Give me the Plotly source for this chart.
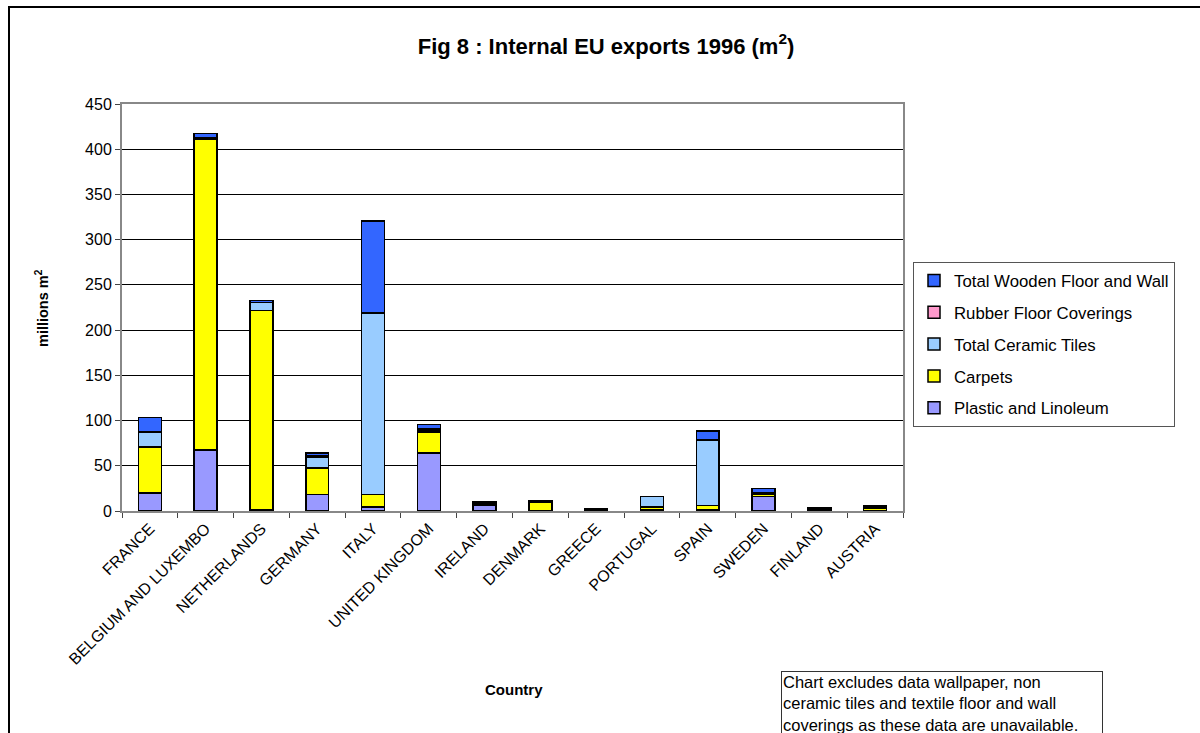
import plotly.graph_objects as go

# Internal EU exports of floor and wall coverings, 1996 (millions of m2)
countries = ["FRANCE", "BELGIUM AND LUXEMBO", "NETHERLANDS", "GERMANY", "ITALY",
             "UNITED KINGDOM", "IRELAND", "DENMARK", "GREECE", "PORTUGAL",
             "SPAIN", "SWEDEN", "FINLAND", "AUSTRIA"]

plastic_linoleum = [20, 67.7, 1, 18.5, 4.4, 64, 6.7, 0.5, 0.5, 1, 1, 16.3, 0.8, 0.5]
carpets = [51, 343, 220.8, 28.8, 13.7, 23.6, 2.3, 9.7, 1, 3.4, 4.9, 2, 1, 2]
ceramic_tiles = [16, 1.5, 8.5, 12.6, 200, 2, 0.3, 0.3, 0.5, 11.5, 72.5, 1.5, 0.8, 1.5]
rubber_coverings = [0.3, 1, 0.5, 1, 1.5, 1.5, 0.2, 0.1, 0.3, 0.1, 0.5, 0.5, 0.5, 0.3]
wooden_floor_wall = [16.2, 4, 2, 3.4, 101, 4.3, 0.2, 0.2, 0.7, 0.1, 9.5, 4.5, 0.9, 1.2]

y_ticks = [0, 50, 100, 150, 200, 250, 300, 350, 400, 450]

series = [
    ("Plastic and Linoleum", plastic_linoleum, "#9999FF"),
    ("Carpets", carpets, "#FFFF00"),
    ("Total Ceramic Tiles", ceramic_tiles, "#99CCFF"),
    ("Rubber Floor Coverings", rubber_coverings, "#FF99CC"),
    ("Total Wooden Floor and Wall", wooden_floor_wall, "#3366FF"),
]

FONT = "Liberation Sans, Arial, sans-serif"

fig = go.Figure()
for i, (name, vals, color) in enumerate(series):
    fig.add_trace(go.Bar(
        x=countries, y=vals, name=name, legendgroup=name,
        legendrank=len(series) - i,
        marker=dict(color=color, line=dict(color="black", width=1.5)),
    ))

L, R, T, B = 122, 297, 104, 222
W, H = 1200, 733
pw, ph = W - L - R, H - T - B

def px_x(x):
    return (x - L) / pw

def px_y(y):
    return (H - B - y) / ph

fig.update_layout(
    width=W, height=H,
    margin=dict(l=L, r=R, t=T, b=B, pad=0),
    barmode="stack", bargap=0.59,
    paper_bgcolor="white", plot_bgcolor="white",
    font=dict(family=FONT, size=16, color="black"),
    title=dict(text="<b>Fig 8 : Internal EU exports 1996 (m<sup>2</sup>)</b>",
               x=0.505, xref="container", xanchor="center",
               y=1 - 46 / H, yref="container", yanchor="middle",
               font=dict(size=22, family=FONT)),
    showlegend=True,
    legend=dict(x=px_x(913), y=px_y(262), xanchor="left", yanchor="top",
                xref="paper", yref="paper",
                traceorder="grouped", tracegroupgap=7,
                entrywidth=235, entrywidthmode="pixels",
                bordercolor="#555555", borderwidth=1, bgcolor="white",
                font=dict(size=16.8, family=FONT)),
    xaxis=dict(type="category", tickangle=-45, tickson="boundaries",
               ticks="outside", ticklen=5, tickcolor="#444444",
               showline=True, linecolor="#888888", linewidth=2, mirror=True,
               tickfont=dict(size=16, family=FONT), showgrid=False),
    yaxis=dict(range=[0, 450], tickvals=y_ticks, ticks="outside", ticklen=5,
               tickcolor="#444444", showline=True, linecolor="#888888",
               linewidth=2, mirror=True, showgrid=True, gridcolor="black",
               gridwidth=1, zeroline=False, tickfont=dict(size=16, family=FONT)),
)

# axis titles
fig.add_annotation(text="<b>millions m<sup>2</sup></b>", xref="paper", yref="paper",
                   x=px_x(42), y=px_y(308), textangle=-90, showarrow=False,
                   xanchor="center", yanchor="middle", font=dict(size=14.5, family=FONT))
fig.add_annotation(text="<b>Country</b>", xref="paper", yref="paper",
                   x=px_x(514), y=px_y(689), showarrow=False,
                   xanchor="center", yanchor="middle", font=dict(size=15, family=FONT))

# note box
fig.add_annotation(
    text="Chart excludes data wallpaper, non<br>ceramic tiles and textile floor and wall"
         "<br>coverings as these data are unavailable.",
    xref="paper", yref="paper", x=px_x(781), y=px_y(671),
    xanchor="left", yanchor="top", align="left", showarrow=False,
    bordercolor="#333333", borderwidth=1, borderpad=1, bgcolor="white",
    width=318, font=dict(size=16.5, family=FONT))

# outer frame of the chart sheet
fig.add_shape(type="rect", xref="paper", yref="paper",
              x0=px_x(9), x1=px_x(1210), y0=px_y(745), y1=px_y(7),
              line=dict(color="black", width=2), fillcolor="rgba(0,0,0,0)", layer="above")

fig.write_html("out.html")
